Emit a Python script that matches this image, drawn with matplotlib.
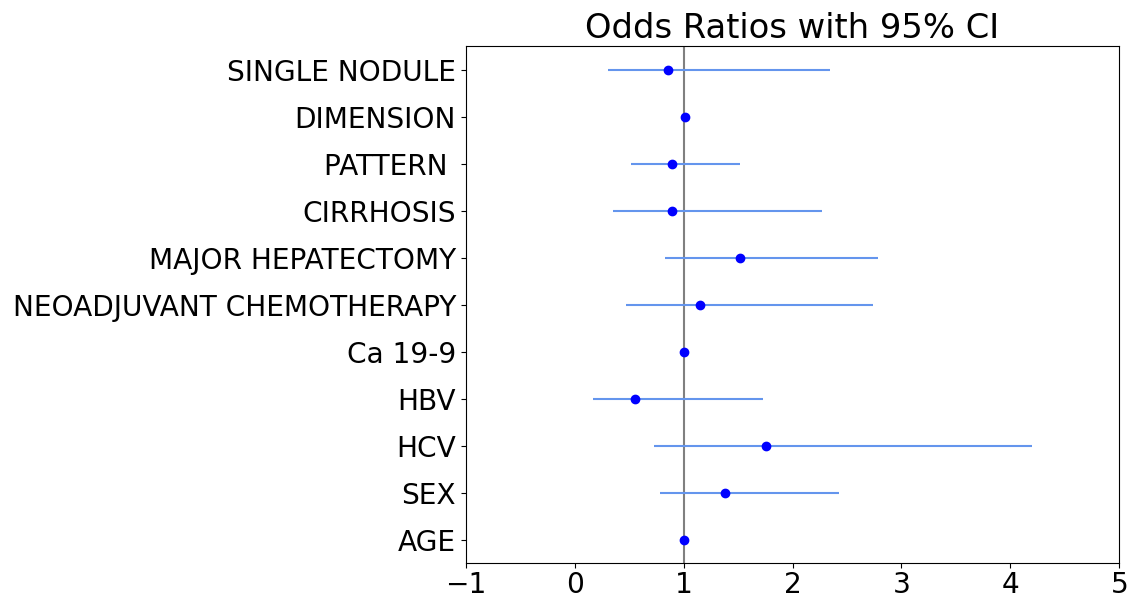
import matplotlib
matplotlib.use("Agg")
import matplotlib.pyplot as plt

variables = ["AGE", "SEX", "HCV", "HBV", "Ca 19-9", "NEOADJUVANT CHEMOTHERAPY",
             "MAJOR HEPATECTOMY", "CIRRHOSIS", "PATTERN ", "DIMENSION", "SINGLE NODULE"]
odds_ratio = [1.00, 1.38, 1.76, 0.55, 1.00, 1.15, 1.52, 0.89, 0.89, 1.01, 0.86]
ci_lower = [0.99, 0.78, 0.73, 0.17, 0.99, 0.47, 0.83, 0.35, 0.52, 1.00, 0.31]
ci_upper = [1.01, 2.43, 4.20, 1.73, 1.01, 2.74, 2.78, 2.27, 1.52, 1.02, 2.34]

fig, ax = plt.subplots(figsize=(11.33, 5.99), dpi=100)
fig.subplots_adjust(left=0.411, right=0.988, top=0.923, bottom=0.06)

ypos = list(range(len(variables)))
err_low = [o - l for o, l in zip(odds_ratio, ci_lower)]
err_high = [u - o for o, u in zip(odds_ratio, ci_upper)]

ax.errorbar(odds_ratio, ypos, xerr=[err_low, err_high], fmt='o', color='blue',
            ecolor='cornflowerblue', capsize=0, markersize=6, elinewidth=1.5)
ax.axvline(x=1, color='gray', linestyle='-', linewidth=1.5, zorder=0)

ax.set_yticks(ypos)
ax.set_yticklabels(variables)
ax.set_xlim(-1, 5)
ax.tick_params(axis='both', labelsize=20.2)
ax.tick_params(axis='x', pad=2.5)
ax.set_title('Odds Ratios with 95% CI', fontsize=24.3)

fig.savefig('out.png')
